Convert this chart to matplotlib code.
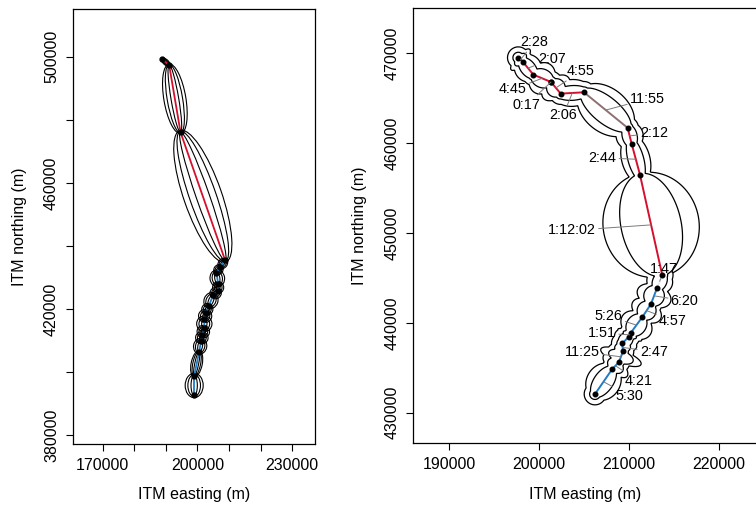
import matplotlib

matplotlib.use("Agg")
import matplotlib.pyplot as plt
import numpy as np
from matplotlib.patches import Ellipse

plt.rcParams["font.family"] = ["Liberation Sans", "DejaVu Sans"]

# ---- left panel: long track, one ellipse set per step ----
left_x = [188840, 191050, 194630, 208740, 207260, 206000, 206530, 206530, 204950,
          203580, 202630, 202210, 202100, 201580, 201160, 200530, 198950, 198950]
left_y = [499260, 497250, 476020, 435460, 433450, 431550, 427960, 425740, 424370,
          420990, 418880, 416760, 413910, 411800, 410000, 406520, 398810, 392790]
left_secs = [78, 2019, 6085, 306, 306, 866, 485, 485, 781, 485, 701, 954, 625, 625,
             701, 485, 1340]
left_xticks = [170000, 180000, 190000, 200000, 210000, 220000, 230000]
left_xticklabels = ["170000", "", "", "200000", "", "", "230000"]
left_yticks = [380000, 400000, 420000, 440000, 460000, 480000, 500000]
left_yticklabels = ["380000", "", "420000", "", "460000", "", "500000"]

# ---- right panel: zoomed track with step durations ----
right_x = [197710, 198200, 199380, 201340, 201360, 202420, 205010, 209870, 210320,
           211240, 213720, 213160, 212460, 211500, 210200, 210020, 209270, 209350,
           208900, 208130, 206240]
right_y = [469510, 469070, 467620, 466810, 466790, 465510, 465660, 461700, 459920,
           456500, 445310, 443930, 442090, 440640, 438860, 438480, 437710, 436820,
           435640, 434820, 432080]
right_secs = [148, 127, 285, 17, 295, 126, 715, 132, 164, 4322, 107, 380, 297, 326,
              111, 90, 167, 685, 261, 330]
right_labels = ["2:28", "2:07", "4:45", "0:17", "4:55", "2:06", "11:55", "2:12", "2:44",
                "1:12:02", "1:47", "6:20", "4:57", "5:26", "1:51", "", "2:47", "11:25",
                "4:21", "5:30"]
right_xticks = [190000, 200000, 210000, 220000]
right_xticklabels = ["190000", "200000", "210000", "220000"]
right_yticks = [430000, 440000, 450000, 460000, 470000]
right_yticklabels = ["430000", "440000", "450000", "460000", "470000"]

# label placement (points, relative to step midpoint)
label_offsets = [(10, 12.5), (17, 6.6), (-21, -8), (-17.5, -16.3), (18, 12), (-6.5, -16),
                 (30, 8), (18, 2), (-24, 1), (-57, -4), (3, 9), (22, -3.6), (19, -7.3),
                 (-20, 6.5), (-20, 1.2), (0, 0), (22.5, -3), (-27.6, 3.4), (16.4, -10.8),
                 (18.4, -10)]

RED = "#D4102E"
BLUE = "#1F7CC4"
left_colors = [RED] * 3 + [BLUE] * 14
right_colors = [RED] * 6 + ["#8E7070"] + [RED] * 3 + ["#EEEEF4"] + [BLUE] * 9

SIG2_IN, SIG2_OUT = 10000.0, 25000.0
E_IN, E_OUT = 600.0, 1200.0
SIG2_LEFT, E_LEFT = 23500.0, 500.0


def bridge_field(px, py, secs, e, sig2, gx, gy):
    best = np.full(gx.shape, np.inf)
    for i, T in enumerate(secs):
        x0, y0 = px[i], py[i]
        dx, dy = px[i + 1] - x0, py[i + 1] - y0
        l2 = max(dx * dx + dy * dy, 1.0)
        t = np.clip(((gx - x0) * dx + (gy - y0) * dy) / l2, 0, 1)
        d = np.hypot(gx - (x0 + t * dx), gy - (y0 + t * dy))
        s = np.sqrt(e ** 2 + sig2 * T * t * (1 - t))
        best = np.minimum(best, d / s)
    return best


def style_axes(ax, xt, xtl, yt, ytl):
    ax.set_xticks(xt)
    ax.set_xticklabels(xtl)
    ax.set_yticks(yt)
    ax.set_yticklabels(ytl, rotation=90, va="center")
    ax.tick_params(direction="out", length=5, width=0.8, labelsize=11.5, pad=5)
    for sp in ax.spines.values():
        sp.set_linewidth(0.9)
    ax.set_xlabel("ITM easting (m)", fontsize=11.5)
    ax.set_ylabel("ITM northing (m)", fontsize=11.5)


fig = plt.figure(figsize=(7.56, 5.08), dpi=100)
axl = fig.add_axes([73 / 756, 1 - 444 / 508, 242 / 756, 435 / 508])
axr = fig.add_axes([413.3 / 756, 1 - 443.3 / 508, 376.7 / 756, 435 / 508])

# left: nested bridge ellipses per step
lx, ly = np.array(left_x, float), np.array(left_y, float)
for i, T in enumerate(left_secs):
    dx, dy = lx[i + 1] - lx[i], ly[i + 1] - ly[i]
    half = np.hypot(dx, dy) / 2
    ang = np.degrees(np.arctan2(dy, dx))
    b_out = np.sqrt(E_LEFT ** 2 + SIG2_LEFT * T / 4)
    for z in (0.35, 0.7, 1.0):
        b = z * b_out
        a = np.sqrt(half ** 2 + (0.85 * b) ** 2)
        axl.add_patch(Ellipse(((lx[i] + lx[i + 1]) / 2, (ly[i] + ly[i + 1]) / 2),
                              2 * a, 2 * b, angle=ang, fill=False,
                              lw=0.8, ec="black", zorder=1))
    axl.plot(lx[i:i + 2], ly[i:i + 2], color=left_colors[i], lw=1.3, zorder=2)
axl.plot(lx, ly, "o", color="black", ms=3.5, zorder=3)
axl.set_xlim(160607, 237180)
axl.set_ylim(377250, 515085)
style_axes(axl, left_xticks, left_xticklabels, left_yticks, left_yticklabels)
axl.xaxis.set_label_coords(0.5, -0.1)
axl.yaxis.set_label_coords(-0.19, 0.5)

# right: bridge envelope contours
rx, ry = np.array(right_x, float), np.array(right_y, float)
gx, gy = np.meshgrid(np.arange(190000, 224000, 50.0), np.arange(426800, 475000, 50.0))
f_in = bridge_field(rx, ry, right_secs, E_IN, SIG2_IN, gx, gy)
f_out = bridge_field(rx, ry, right_secs, E_OUT, SIG2_OUT, gx, gy)
axr.contour(gx, gy, f_in, levels=[1.0], colors="black", linewidths=0.9, zorder=1)
axr.contour(gx, gy, f_out, levels=[1.0], colors="black", linewidths=0.9, zorder=1)

for i, lab in enumerate(right_labels):
    axr.plot(rx[i:i + 2], ry[i:i + 2], color=right_colors[i], lw=1.4, zorder=2)
    if not lab:
        continue
    mid = ((rx[i] + rx[i + 1]) / 2, (ry[i] + ry[i + 1]) / 2)
    axr.annotate(lab, xy=mid, xytext=label_offsets[i], textcoords="offset points",
                 ha="center", va="center", fontsize=10.4, zorder=4,
                 arrowprops=dict(arrowstyle="-", color="#7A7A7A", lw=0.7,
                                 shrinkA=0, shrinkB=0))
axr.plot(rx, ry, "o", color="black", ms=3.3, zorder=3)
axr.set_xlim(186030, 227930)
axr.set_ylim(426600, 475005)
style_axes(axr, right_xticks, right_xticklabels, right_yticks, right_yticklabels)
axr.xaxis.set_label_coords(342.7 / 2 / 376.7, -0.1)
axr.yaxis.set_label_coords(-0.123, 0.5)

fig.savefig("out.png", dpi=100)
